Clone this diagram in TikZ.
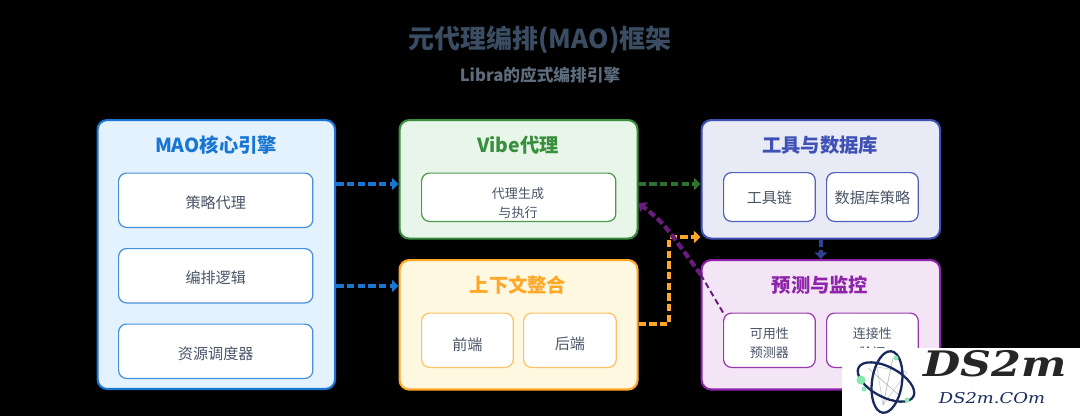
\documentclass[tikz,border=0pt]{standalone}
\usepackage{fontspec}
\setmainfont{Noto Sans CJK SC}
\newfontfamily\logofont[BoldFeatures={FakeBold=2.5}]{DejaVu Serif}
\usetikzlibrary{positioning,arrows.meta,calc}
\definecolor{inktitle}{HTML}{3A4D63}
\definecolor{inksub}{HTML}{5D6D7E}
\definecolor{inkbody}{HTML}{4A5568}
\definecolor{maoblue}{HTML}{1976D2}
\definecolor{maofill}{HTML}{E3F2FD}
\definecolor{vibegreen}{HTML}{388E3C}
\definecolor{vibefill}{HTML}{E8F5E9}
\definecolor{ctxorange}{HTML}{FFA726}
\definecolor{ctxfill}{HTML}{FFF8E1}
\definecolor{toolindigo}{HTML}{3F51B5}
\definecolor{toolfill}{HTML}{E8EAF6}
\definecolor{predpurple}{HTML}{8E24AA}
\definecolor{predfill}{HTML}{F3E5F5}
\definecolor{atomnavy}{HTML}{1A2A5E}
\definecolor{atomgreen}{HTML}{86E8AE}
\tikzset{
  panel/.style={draw=#1, line width=1.2pt, rounded corners=5.5pt, inner sep=0pt},
  part/.style={draw=#1, fill=white, line width=0.7pt, rounded corners=4.5pt, inner sep=0pt},
  parttext/.style={font=\fontsize{8.6}{12}\selectfont, text=inkbody, align=center},
  smalltext/.style={font=\fontsize{7.4}{11}\selectfont, text=inkbody, align=center},
  head/.style={font=\fontsize{11}{12}\selectfont\bfseries, text=#1},
  flow/.style={draw=#1, line width=2pt, dash pattern=on 4.2pt off 1.9pt, -{Triangle[length=3.8pt,width=7pt]}}
}
\newcommand{\panelbox}[6]{% name, colour, fill, corner, width, height
  \node[panel=#2, fill=#3, minimum width=#5*0.5669pt, minimum height=#6*0.5669pt, anchor=north west] (#1) at (#4) {};
}
\newcommand{\partbox}[5]{% name, colour, corner, width, height
  \node[part=#2, minimum width=#4*0.5669pt, minimum height=#5*0.5669pt, anchor=north west] (#1) at (#3) {};
}
\begin{document}
\begin{tikzpicture}[x=0.02cm, y=-0.02cm]
    % Page
    \fill[black] (0,0) rectangle (1080,416);
    \useasboundingbox (0,0) rectangle (1080,416);

    % Title
    \node[font=\fontsize{14.8}{16}\selectfont\bfseries, text=inktitle] (title) at (540,40) {元代理编排(MAO)框架};
    \node[font=\fontsize{9.5}{11}\selectfont\bfseries, text=inksub] (subtitle) at (540,75.5) {Libra的应式编排引擎};

    % Panels
    \panelbox{mao}{maoblue}{maofill}{96.5,119}{238.5}{270}
    \panelbox{vibe}{vibegreen}{vibefill}{398.5,119}{239}{119}
    \panelbox{ctx}{ctxorange}{ctxfill}{398.5,259}{239}{130}
    \panelbox{tools}{toolindigo}{toolfill}{700.5,119}{239.5}{119}
    \panelbox{pred}{predpurple}{predfill}{700.5,259}{239.5}{130}

    % Panel headings
    \node[head=maoblue] (maohead) at (216,145.5) {MAO核心引擎};
    \node[head=vibegreen] (vibehead) at (518,145.5) {Vibe代理};
    \node[head=ctxorange] (ctxhead) at (518,285.5) {上下文整合};
    \node[head=toolindigo] (toolshead) at (820,145.5) {工具与数据库};
    \node[head=predpurple] (predhead) at (820,285.5) {预测与监控};

    % Inner parts
    \partbox{strat}{maoblue!80}{118,172.5}{195}{54.5}
    \partbox{logic}{maoblue!80}{118,248}{195}{54.5}
    \partbox{sched}{maoblue!80}{118,323.5}{195}{54.5}
    \partbox{gen}{vibegreen!90}{421,172.5}{195}{48.5}
    \partbox{front}{ctxorange!70}{421,312.5}{92}{54.5}
    \partbox{back}{ctxorange!70}{523,312.5}{93}{54.5}
    \partbox{chain}{toolindigo!90}{723,172}{92}{49}
    \partbox{dbpol}{toolindigo!90}{826,172}{92}{49}
    \partbox{avail}{predpurple!90}{723,312.5}{92}{54.5}
    \partbox{conn}{predpurple!90}{826,312.5}{92}{54.5}

    % Part texts
    \node[parttext] (strattext) at ($(strat.center)+(0,2)$) {策略代理};
    \node[parttext] (logictext) at ($(logic.center)+(0,2)$) {编排逻辑};
    \node[parttext] (schedtext) at ($(sched.center)+(0,2)$) {资源调度器};
    \node[smalltext] (gentext) at (518,203) {代理生成\\与执行};
    \node[parttext] (fronttext) at ($(front.center)+(0,4)$) {前端};
    \node[parttext] (backtext) at ($(back.center)+(0,4)$) {后端};
    \node[parttext] (chaintext) at ($(chain.center)+(0,1)$) {工具链};
    \node[parttext] (dbpoltext) at ($(dbpol.center)+(0,1)$) {数据库策略};
    \node[smalltext] (availtext) at ($(avail.center)+(0,2.5)$) {可用性\\预测器};
    \node[smalltext] (conntext) at ($(conn.center)+(0,2.5)$) {连接性\\验证};

    % Connectors
    \draw[flow=maoblue] (mao.east |- 0,184) -- (vibe.west |- 0,184);
    \draw[flow=maoblue] (mao.east |- 0,286) -- (ctx.west |- 0,286);
    \draw[flow=vibegreen!80!black] (vibe.east |- 0,184) -- (tools.west |- 0,184);
    \draw[flow=ctxorange] (ctx.east |- 0,324) -- (669,324) -- (669,237) -- (tools.west |- 0,237);
    \draw[flow=toolindigo!80!black] (tools.south) -- (pred.north);
    \coordinate (predcross) at (701,275);
    \draw[predpurple!75!black, line width=1.1pt, dash pattern=on 3.4pt off 2pt] (avail.north west) -- (predcross);
    \draw[flow=predpurple!75!black, line width=2.4pt] (predcross) .. controls (663.5,223) .. (vibe.east |- 0,203);

    % Watermark
    \fill[white] (842,348) rectangle (1080,416);
    \draw[gray!35, line width=0.4pt] (877,367) -- (907,372) -- (883,405) -- cycle;
    \draw[gray!55, line width=0.4pt] (868,368) -- (900,396) (893,358) -- (883,405);
    \begin{scope}[atomnavy, line width=1.3pt]
        \draw[rotate around={-28:(886,382)}] (886,382) ellipse[x radius=31, y radius=15];
        \draw[rotate around={82:(887,382)}] (887,382) ellipse[x radius=31, y radius=15];
    \end{scope}
    \fill[atomgreen] (861,380) circle (4.5);
    \fill[atomgreen] (896,358) circle (2.5) (864,389) circle (2.5) (907,400) circle (2.5);
    \node[font=\logofont\fontsize{20}{22}\selectfont\bfseries\itshape, text=black!85, xscale=1.22] (logomark) at (995,364) {DS2m};
    \node[font=\logofont\fontsize{8.5}{10}\selectfont\itshape, text=atomnavy, xscale=1.2] (logourl) at (992,398) {DS2m.COm};
\end{tikzpicture}
\end{document}
